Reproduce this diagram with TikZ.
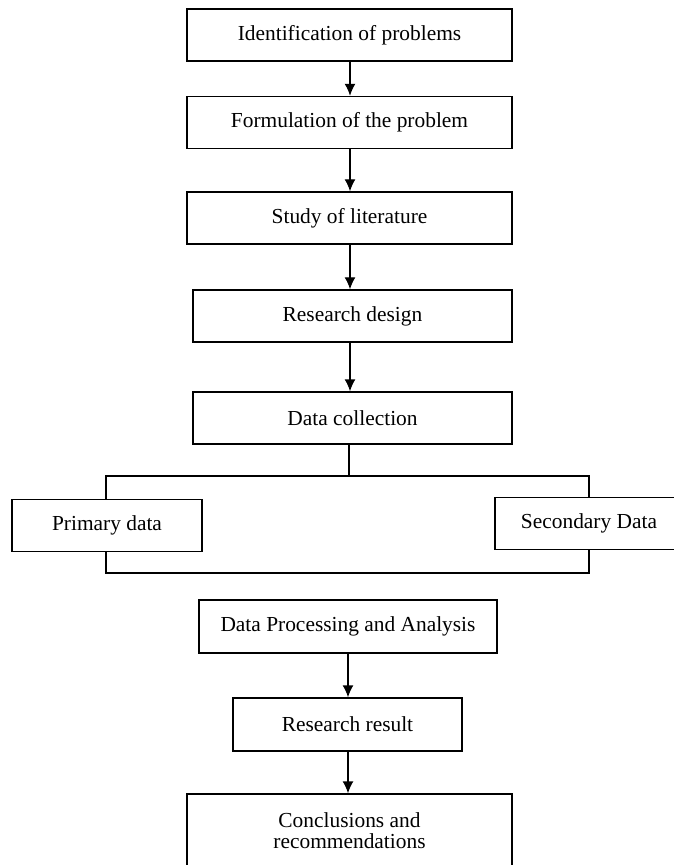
\documentclass[tikz,border=0pt]{standalone}
\usepackage{fontspec}
\setmainfont{Liberation Serif}
\usetikzlibrary{arrows.meta}
\tikzset{
    box/.style={draw, line width=0.7pt, minimum height=26pt, inner sep=0pt,
        align=center, font=\fontsize{10.7}{10.5}\selectfont},
    flow/.style={line width=0.7pt, -{Latex[length=6pt,width=5.5pt]}},
    link/.style={line width=0.7pt},
}
\begin{document}
\begin{tikzpicture}[x=0.5pt,y=-0.5pt]
                \useasboundingbox (0,0) rectangle (673,865);
                % main column
                \node[box, minimum width=162.5pt] (ident)   at (349.5,35)    {Identification of problems};
                \node[box, minimum width=162.5pt] (formul)  at (349.5,122.5) {Formulation of the problem};
                \node[box, minimum width=162.5pt] (study)   at (349.5,218)   {Study of literature};
                \node[box, minimum width=159.5pt] (design)  at (352.5,316)   {Research design};
                \node[box, minimum width=159.5pt] (collect) at (352.5,418)   {Data collection};
                % the two kinds of data
                \node[box, minimum width=95pt]    (primary) at (107,525.5)   {Primary data};
                \node[box, minimum width=94pt]    (second)  at (589,523.5)   {Secondary Data};
                \node[box, minimum width=149pt, minimum height=26.5pt] (process) at (348,626.5) {Data Processing and Analysis};
                \node[box, minimum width=114.5pt, minimum height=26.5pt] (result) at (347.5,724.5) {Research result};
                \node[box, minimum width=162.5pt, minimum height=37pt] (concl) at (349.5,831) {Conclusions and\\recommendations};
                % arrows, kept vertical
                \coordinate (spine) at (350,0);
                \coordinate (lower) at (348,0);
                \draw[flow] (ident.south -| spine) -- (formul.north -| spine);
                \draw[flow] (formul.south -| spine) -- (study.north -| spine);
                \draw[flow] (study.south -| spine) -- (design.north -| spine);
                \draw[flow] (design.south -| spine) -- (collect.north -| spine);
                \draw[flow] (process.south -| lower) -- (result.north -| lower);
                \draw[flow] (result.south -| lower) -- (concl.north -| lower);
                % split of the data collection
                \coordinate (split) at (349,476);
                \coordinate (joinL) at (106,573);
                \coordinate (joinR) at (589,573);
                \draw[link] (collect.south -| split) -- (split);
                \draw[link] (primary.north -| joinL) |- (split) -| (second.north);
                \draw[link] (primary.south -| joinL) -- (joinL) -- (joinR) -- (second.south);
            \end{tikzpicture}
\end{document}
